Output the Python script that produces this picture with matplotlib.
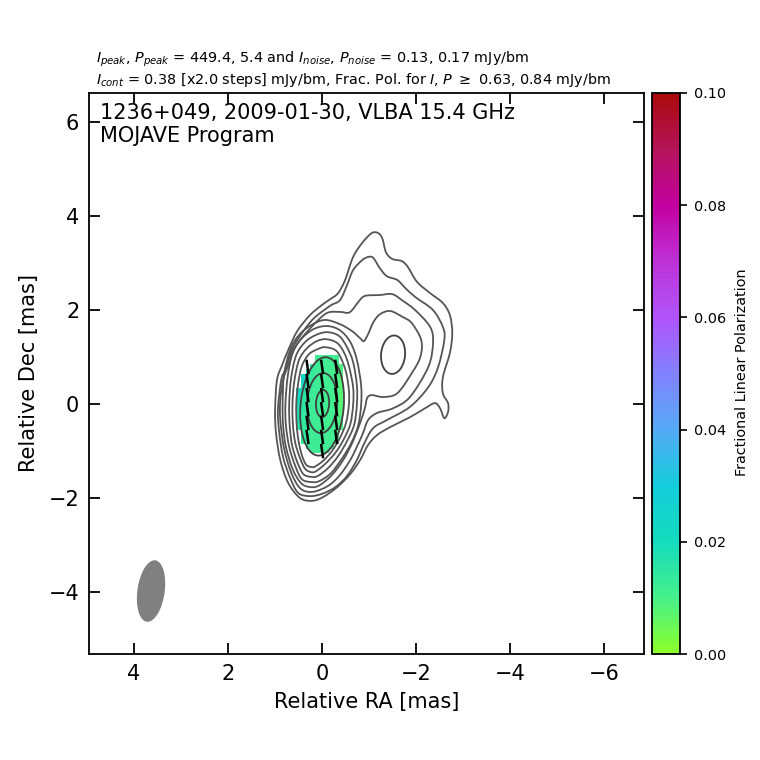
import numpy as np
import matplotlib
matplotlib.use("Agg")
import matplotlib.pyplot as plt
from matplotlib.colors import LinearSegmentedColormap
from matplotlib.patches import Ellipse, PathPatch
from matplotlib.path import Path

# Contours (RA, Dec in mas)
c1_ra = [-0.17,-0.34,-0.49,-0.66,-0.87,-1.06,-1.19,-1.28,-1.36,-1.49,-1.70,-1.83,-2.02,-2.30,-2.57,-2.72,-2.77,-2.72,-2.57,-2.57,-2.68,-2.68,-2.60,-2.51,-2.40,-2.19,-1.87,-1.45,-1.17,-0.98,-0.81,-0.60,-0.32,-0.02,0.21,0.47,0.72,0.89,0.98,1.00,0.96,0.85,0.72,0.53,0.26,0.00]
c1_dec = [2.23,2.36,2.64,3.13,3.45,3.64,3.64,3.53,3.23,3.09,3.04,2.91,2.60,2.36,2.15,1.89,1.51,1.09,0.57,0.23,0.02,-0.17,-0.30,-0.09,0.02,-0.09,-0.28,-0.49,-0.66,-0.87,-1.19,-1.49,-1.77,-1.98,-2.06,-2.00,-1.68,-1.19,-0.62,-0.13,0.51,0.83,1.15,1.55,1.89,2.11]
c2_ra = [-0.17,-0.38,-0.53,-0.66,-0.85,-0.98,-1.09,-1.23,-1.38,-1.60,-1.77,-1.98,-2.36,-2.57,-2.60,-2.47,-2.26,-1.87,-1.38,-1.09,-0.91,-0.74,-0.53,-0.28,0.00,0.26,0.51,0.68,0.83,0.91,0.94,0.87,0.79,0.66,0.53,0.21]
c2_dec = [2.09,2.21,2.53,2.85,3.06,3.13,3.11,2.89,2.72,2.64,2.47,2.28,2.00,1.64,1.36,0.79,0.36,-0.06,-0.34,-0.51,-0.81,-1.19,-1.53,-1.77,-1.91,-1.96,-1.89,-1.57,-1.13,-0.62,-0.13,0.51,0.72,1.11,1.36,1.79]
c3_ra = [-0.11,-0.38,-0.55,-0.64,-0.77,-0.91,-1.23,-1.49,-1.70,-1.98,-2.30,-2.36,-2.26,-1.87,-1.51,-1.17,-0.98,-0.87,-0.74,-0.60,-0.38,-0.13,0.21,0.47,0.66,0.81,0.89,0.89,0.83,0.72,0.62,0.47,0.15]
c3_dec = [1.94,1.96,1.94,2.00,2.17,2.30,2.32,2.34,2.21,2.00,1.64,1.30,0.79,0.15,-0.09,-0.19,-0.34,-0.62,-0.91,-1.19,-1.51,-1.74,-1.87,-1.79,-1.45,-0.94,-0.34,0.09,0.51,0.83,1.11,1.36,1.72]
c4_ra = [-0.06,-0.38,-0.64,-0.81,-0.89,-0.98,-1.09,-1.23,-1.45,-1.72,-1.91,-2.11,-2.09,-1.91,-1.60,-1.30,-1.06,-0.96,-0.91,-0.81,-0.64,-0.45,-0.21,0.04,0.21,0.43,0.62,0.77,0.83,0.84,0.81,0.68,0.49,0.23]
c4_dec = [1.79,1.70,1.55,1.40,1.34,1.49,1.74,1.91,1.98,1.85,1.72,1.36,1.00,0.66,0.23,0.15,0.19,0.13,-0.09,-0.40,-0.83,-1.19,-1.51,-1.72,-1.77,-1.70,-1.40,-0.91,-0.45,0.00,0.62,1.15,1.47,1.68]
c5_ra = [-0.11,-0.38,-0.60,-0.74,-0.83,-0.83,-0.77,-0.62,-0.43,-0.19,0.06,0.23,0.43,0.57,0.70,0.77,0.78,0.73,0.62,0.43,0.17]
c5_dec = [1.66,1.57,1.32,0.94,0.40,-0.02,-0.45,-0.83,-1.15,-1.47,-1.64,-1.66,-1.60,-1.32,-0.91,-0.45,0.00,0.60,1.11,1.40,1.60]
c6_ra = [-0.11,-0.36,-0.53,-0.66,-0.74,-0.74,-0.68,-0.53,-0.34,-0.13,0.09,0.23,0.40,0.53,0.64,0.69,0.70,0.66,0.55,0.36,0.13]
c6_dec = [1.53,1.45,1.21,0.89,0.40,-0.02,-0.45,-0.79,-1.11,-1.36,-1.53,-1.55,-1.49,-1.23,-0.87,-0.45,0.00,0.55,1.04,1.32,1.47]
c7_ra = [-0.09,-0.32,-0.47,-0.57,-0.66,-0.66,-0.60,-0.45,-0.28,-0.06,0.13,0.23,0.36,0.47,0.57,0.62,0.63,0.59,0.49,0.32,0.11]
c7_dec = [1.38,1.30,1.09,0.81,0.36,-0.02,-0.43,-0.77,-1.04,-1.28,-1.43,-1.45,-1.38,-1.15,-0.83,-0.45,0.00,0.49,0.94,1.19,1.34]
c8_ra = [-0.06,-0.28,-0.40,-0.51,-0.57,-0.57,-0.51,-0.38,-0.21,-0.02,0.15,0.23,0.34,0.43,0.50,0.54,0.55,0.51,0.43,0.28,0.09]
c8_dec = [1.21,1.15,0.98,0.68,0.30,-0.02,-0.40,-0.72,-1.00,-1.21,-1.33,-1.34,-1.29,-1.09,-0.79,-0.45,0.00,0.43,0.81,1.06,1.17]

# Innermost contours and the jet lobe, described as ellipses (mas, degrees)
ell_ra    = [ 0.00, 0.00,-0.01,-1.51]
ell_dec   = [-0.05, 0.02, 0.01, 1.05]
ell_major = [ 1.05, 0.64, 0.29, 0.41]
ell_minor = [ 0.46, 0.32, 0.14, 0.255]
ell_tilt  = [ 5, 3, 3, 5]

# Fractional polarization cells: RA columns and Dec rows in mas
n = np.nan
fp_ra_edges = [0.55,0.45,0.35,0.25,0.15,0.05,-0.05,-0.15,-0.25,-0.35,-0.45]
fp_dec_edges = [1.05,0.95,0.85,0.75,0.65,0.55,0.45,0.35,0.25,0.15,0.05,-0.05,-0.15,-0.25,-0.35,-0.45,-0.55,-0.65,-0.75,-0.85,-0.95,-1.05]
frac_pol = [
 [n,n,n,n,.012,.011,.011,.011,.011,n],
 [n,n,n,n,.012,.011,.011,.011,.011,n],
 [n,n,n,.014,.012,.011,.011,.011,.010,.009],
 [n,n,.018,.013,.012,.011,.011,.011,.010,.009],
 [n,.024,.016,.013,.012,.011,.011,.011,.010,.008],
 [n,.024,.015,.013,.012,.011,.011,.011,.010,.008],
 [n,.022,.014,.013,.012,.011,.011,.011,.010,.008],
 [.022,.017,.014,.012,.012,.011,.011,.011,.010,.008],
 [.022,.016,.014,.012,.012,.011,.011,.011,.010,.008],
 [.020,.015,.013,.012,.012,.011,.011,.011,.010,.008],
 [.019,.015,.013,.012,.012,.011,.011,.011,.010,.008],
 [.018,.015,.013,.012,.012,.011,.011,.011,.010,.008],
 [.018,.014,.013,.012,.012,.011,.011,.011,.010,.008],
 [.018,.014,.013,.012,.012,.011,.011,.011,.010,.009],
 [.017,.014,.013,.012,.012,.011,.011,.011,.010,.009],
 [.016,.014,.013,.012,.012,.011,.011,.011,.010,.009],
 [n,.014,.013,.012,.012,.011,.011,.011,.010,n],
 [n,.014,.013,.012,.012,.011,.011,.011,.010,n],
 [n,.013,.013,.012,.012,.011,.011,.011,.010,n],
 [n,n,.013,.012,.012,.011,.011,.011,n,n],
 [n,n,n,.012,.012,.011,.011,n,n,n],
]

# Polarization vectors
vec_ra  = [0.31]*6 + [0.00]*7 + [-0.30]*6
vec_dec = [0.79,0.49,0.19,-0.11,-0.40,-0.70,
           0.79,0.49,0.19,-0.11,-0.40,-0.70,-1.00,
           0.79,0.49,0.19,-0.11,-0.40,-0.70]
vec_len = [0.31]*19
vec_tilt = [8]*19

# Beam
beam_ra, beam_dec, beam_w, beam_h, beam_tilt = 3.64, -3.98, 0.58, 1.32, 8

x_ticks = [4, 2, 0, -2, -4, -6]
y_ticks = [-4, -2, 0, 2, 4, 6]
cbar_ticks = [0.00, 0.02, 0.04, 0.06, 0.08, 0.10]
cmap_colors = ['#8cff28', '#46f08c', '#14dcbe', '#14cddc', '#55aaf5', '#8282ff',
               '#af55fa', '#be32d7', '#c300a0', '#b4145a', '#aa0a0a']

W = 760.0


def smooth_closed(x, y):
    p = np.column_stack([x, y])
    m = len(p)
    verts = [p[0]]
    codes = [Path.MOVETO]
    for i in range(m):
        p0, p1, p2, p3 = p[i-1], p[i], p[(i+1) % m], p[(i+2) % m]
        verts += [p1 + (p2-p0)/6, p2 - (p3-p1)/6, p2]
        codes += [Path.CURVE4]*3
    return Path(verts, codes)


fig = plt.figure(figsize=(7.6, 7.6), dpi=100)
ax = fig.add_axes([89/W, (W-654)/W, (644-89)/W, (654-93)/W])
cax = fig.add_axes([652/W, (W-654)/W, (680-652)/W, (654-93)/W])

cmap = LinearSegmentedColormap.from_list('fracpol', cmap_colors, N=256)
mesh = ax.pcolormesh(fp_ra_edges, fp_dec_edges, np.array(frac_pol), cmap=cmap,
                     vmin=0, vmax=0.1, zorder=1)

line_color = '#555555'
line_width = 1.3
for xs, ys in [(c1_ra, c1_dec), (c2_ra, c2_dec), (c3_ra, c3_dec), (c4_ra, c4_dec),
               (c5_ra, c5_dec), (c6_ra, c6_dec), (c7_ra, c7_dec), (c8_ra, c8_dec)]:
    ax.add_patch(PathPatch(smooth_closed(xs, ys), fc='none', ec=line_color, lw=line_width, zorder=2))
for ra, dec, a, b, t in zip(ell_ra, ell_dec, ell_major, ell_minor, ell_tilt):
    ax.add_patch(Ellipse((ra, dec), 2*b, 2*a, angle=t, fc='none', ec='#404040', lw=line_width, zorder=2))

for ra, dec, length, tilt in zip(vec_ra, vec_dec, vec_len, vec_tilt):
    s, c = np.sin(np.radians(tilt)), np.cos(np.radians(tilt))
    ax.plot([ra + s*length/2, ra - s*length/2], [dec + c*length/2, dec - c*length/2],
            color='black', lw=1.8, solid_capstyle='butt', zorder=3)

ax.add_patch(Ellipse((beam_ra, beam_dec), beam_w, beam_h, angle=beam_tilt,
                     fc='#808080', ec='none', zorder=2))

ax.set_xlim(4.96, -6.85)
ax.set_ylim(-5.32, 6.62)
ax.set_aspect('auto')
ax.set_xticks(x_ticks)
ax.set_yticks(y_ticks)
ax.xaxis.set_major_formatter(plt.FuncFormatter(lambda v, p: f'{v:.0f}'.replace('-', '\u2212')))
ax.yaxis.set_major_formatter(plt.FuncFormatter(lambda v, p: f'{v:.0f}'.replace('-', '\u2212')))
ax.tick_params(axis='both', direction='in', top=True, right=True, length=8, width=1.3,
               labelsize=15, pad=7)
for sp in ax.spines.values():
    sp.set_linewidth(1.3)
ax.set_xlabel('Relative RA [mas]', fontsize=15, labelpad=6)
ax.set_ylabel('Relative Dec [mas]', fontsize=15, labelpad=7)

fig.text(100/W, (W-119)/W, '1236+049, 2009-01-30, VLBA 15.4 GHz', fontsize=15, va='baseline')
fig.text(100/W, (W-141.5)/W, 'MOJAVE Program', fontsize=15, va='baseline')
fig.text(96/W, (W-63)/W,
         r'$I_{peak}$, $P_{peak}$ = 449.4, 5.4 and $I_{noise}$, $P_{noise}$ = 0.13, 0.17 mJy/bm',
         fontsize=10.4, va='baseline')
fig.text(96/W, (W-84)/W,
         r'$I_{cont}$ = 0.38 [x2.0 steps] mJy/bm, Frac. Pol. for $I$, $P$ $\geq$ 0.63, 0.84 mJy/bm',
         fontsize=10.4, va='baseline')

cb = fig.colorbar(mesh, cax=cax, ticks=cbar_ticks, format='%.2f')
cb.ax.tick_params(labelsize=10.4, length=5, width=1.2, direction='out', pad=5)
cb.outline.set_linewidth(1.3)
fig.text(741.5/W, (W-372.5)/W, 'Fractional Linear Polarization', rotation=90, fontsize=10.4,
         ha='center', va='center')

fig.savefig('out.png', dpi=100)
